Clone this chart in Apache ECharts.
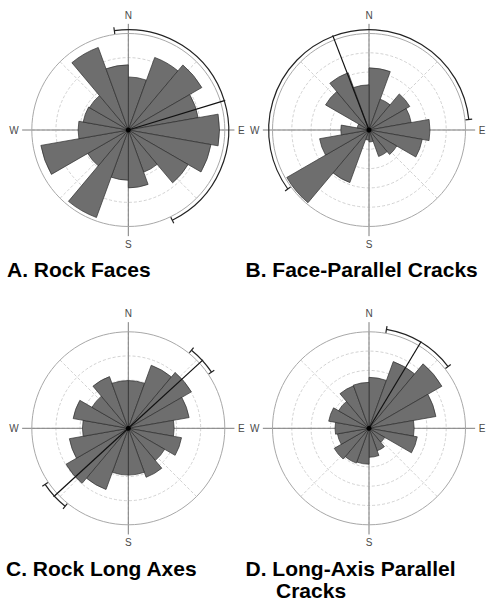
<!DOCTYPE html>
<html>
<head>
<meta charset="utf-8">
<script src="https://cdn.jsdelivr.net/npm/echarts@6/dist/echarts.min.js"></script>
<style>
html,body{margin:0;padding:0;background:#fff;}
#c{width:486px;height:604px;}
</style>
</head>
<body>
<div id="c"></div>
<script>
// 20-degree direction bins, clockwise from North
const bins = ['0','20','40','60','80','100','120','140','160','180','200','220','240','260','280','300','320','340'];

// frequencies per bin (arbitrary units, outer circle = scaleMax)
const rockFaces              = [11.0, 16.0, 17.6, 14.7, 18.9, 17.4, 14.3, 9.3, 12.0, 10.4, 19.3, 9.7, 18.4, 10.4, 9.5, 9.3, 18.2, 13.5];
const faceParallelCracks     = [16.1, 8.5, 12.2, 11.1, 15.8, 14.0, 8.3, 7.3, 3.1, 2.6, 14.5, 24.6, 13.0, 7.3, 3.1, 13.0, 15.8, 11.7];
const rockLongAxes           = [9.9, 13.9, 15.1, 12.8, 9.5, 11.2, 8.7, 10.8, 9.7, 9.7, 13.5, 14.9, 12.4, 9.5, 11.6, 8.7, 11.4, 9.9];
const longAxisParallelCracks = [13.2, 18.4, 21.8, 17.6, 11.7, 12.7, 4.7, 6.2, 7.5, 9.3, 9.6, 10.4, 8.3, 8.8, 10.6, 9.1, 11.7, 11.9];

const scaleMax     = [20, 25, 20, 25];
const ringInterval = [5, 5, 5, 5];

// mean direction (degrees from N) and confidence half-width (degrees)
const meanDirections       = [73, 339, 47.5, 31];
const confidenceHalfWidths = [81, 105, 8.5, 21];
const axialData            = [0, 0, 1, 0];

const compassLabels = {0: 'N', 90: 'E', 180: 'S', 270: 'W'};
const panelTitles = ['A. Rock Faces', 'B. Face-Parallel Cracks', 'C. Rock Long Axes', 'D. Long-Axis Parallel', 'Cracks'];

const panelData = [rockFaces, faceParallelCracks, rockLongAxes, longAxisParallelCracks];

// layout
const centers = [[128.3, 130], [369, 130], [128.3, 428.3], [369, 428.3]];
const R = 96.5;
const ARC_R = 1.04, LINE_R = 1.05;

const polar = [], angleAxis = [], radiusAxis = [], series = [];

panelData.forEach((vals, i) => {
  const c = centers[i];
  const b = 3 * i;
  polar.push({center: c, radius: R}, {center: c, radius: R}, {center: c, radius: R * 1.1});

  // bars polar
  const nRings = scaleMax[i] / ringInterval[i] + 1;
  const ringColors = [];
  for (let k = 0; k < nRings; k++) ringColors.push(k === nRings - 1 ? 'rgba(0,0,0,0)' : '#c6c6c6');
  angleAxis.push({
    polarIndex: b, type: 'category', data: bins, startAngle: 90, clockwise: true, boundaryGap: true,
    axisLine: {show: true, lineStyle: {color: '#a8a8a8', width: 1}},
    axisTick: {show: false}, axisLabel: {show: false}, splitLine: {show: false}
  });
  radiusAxis.push({
    polarIndex: b, type: 'value', min: 0, max: scaleMax[i], interval: ringInterval[i],
    axisLine: {show: false}, axisTick: {show: false}, axisLabel: {show: false},
    splitLine: {show: true, lineStyle: {color: ringColors, type: [3, 2], width: 0.8}}
  });

  // diagonal dashed guides
  angleAxis.push({
    polarIndex: b + 1, type: 'value', min: 0, max: 360, interval: 45, startAngle: 90, clockwise: true,
    axisLine: {show: false}, axisTick: {show: false}, axisLabel: {show: false},
    splitLine: {show: true, lineStyle: {color: '#c6c6c6', type: [3, 2], width: 0.8}}
  });
  radiusAxis.push({
    polarIndex: b + 1, type: 'value', min: 0, max: 1,
    axisLine: {show: false}, axisTick: {show: false}, axisLabel: {show: false}, splitLine: {show: false}
  });

  // cardinal axes + labels
  angleAxis.push({
    polarIndex: b + 2, type: 'value', min: 0, max: 360, interval: 90, startAngle: 90, clockwise: true,
    axisLine: {show: false}, axisTick: {show: false},
    axisLabel: {show: true, margin: 3.5, color: '#4a4a4a', fontSize: 10,
      fontFamily: '"Liberation Sans", Arial, sans-serif',
      formatter: v => compassLabels[v] || ''},
    splitLine: {show: true, lineStyle: {color: '#7c7c7c', width: 1}}
  });
  radiusAxis.push({
    polarIndex: b + 2, type: 'value', min: 0, max: 1.1,
    axisLine: {show: false}, axisTick: {show: false}, axisLabel: {show: false}, splitLine: {show: false}
  });

  series.push({
    type: 'bar', coordinateSystem: 'polar', polarIndex: b,
    data: vals, barCategoryGap: '0%', barGap: '0%',
    itemStyle: {color: '#6e6e6e', borderColor: '#2e2e2e', borderWidth: 0.7},
    silent: true, z: 2
  });

  series.push({
    type: 'custom', coordinateSystem: 'polar', polarIndex: b + 2, z: 5, silent: true,
    data: [[ARC_R, meanDirections[i], confidenceHalfWidths[i], axialData[i]]],
    encode: {radius: 0, angle: 1},
    renderItem: (params, api) => {
      const rr = api.value(0), m = api.value(1), h = api.value(2), ax = api.value(3);
      const o = api.coord([0, m]);
      const children = [];
      const dirs = ax ? [m, m + 180] : [m];
      dirs.forEach(d => {
        const e = api.coord([LINE_R, d]);
        children.push({type: 'line', shape: {x1: o[0], y1: o[1], x2: e[0], y2: e[1]},
          style: {stroke: '#111', lineWidth: 1.2}});
        const s = api.coord([rr, d - h]), t = api.coord([rr, d + h]);
        const r = Math.hypot(s[0] - o[0], s[1] - o[1]);
        const a1 = Math.atan2(s[1] - o[1], s[0] - o[0]);
        const a2 = Math.atan2(t[1] - o[1], t[0] - o[0]);
        children.push({type: 'arc', shape: {cx: o[0], cy: o[1], r: r, startAngle: a1, endAngle: a2, clockwise: true},
          style: {stroke: '#222', lineWidth: 1.2, fill: null}});
        [d - h, d + h].forEach(a => {
          const p1 = api.coord([rr - 0.035, a]), p2 = api.coord([rr + 0.035, a]);
          children.push({type: 'line', shape: {x1: p1[0], y1: p1[1], x2: p2[0], y2: p2[1]},
            style: {stroke: '#222', lineWidth: 1.2}});
        });
      });
      children.push({type: 'circle', shape: {cx: o[0], cy: o[1], r: 2.5}, style: {fill: '#000'}});
      return {type: 'group', children: children};
    }
  });
});

const titleFont = 'bold 21px "Liberation Sans", Arial, sans-serif';
const titlePos = [[7, 269.7], [245.5, 269.7], [6, 568.7], [245.5, 568.7], [276, 590]];
const graphic = panelTitles.map((t, k) => ({
  type: 'text', left: titlePos[k][0], top: titlePos[k][1] - 10.5,
  style: {text: t, font: titleFont, fill: '#000'}
}));

const chart = echarts.init(document.getElementById('c'), null, {renderer: 'svg', width: 486, height: 604});
chart.setOption({
  animation: false,
  backgroundColor: '#fff',
  polar: polar,
  angleAxis: angleAxis,
  radiusAxis: radiusAxis,
  series: series,
  graphic: graphic
});
</script>
</body>
</html>
